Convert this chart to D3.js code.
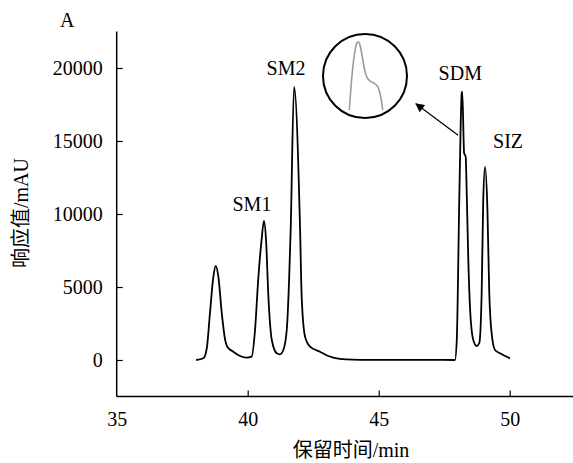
<!DOCTYPE html>
<html><head><meta charset="utf-8">
<script src="https://cdn.jsdelivr.net/npm/d3@7"></script>
<style>
html,body{margin:0;padding:0;background:#fff;}
svg{display:block;}
text{font-family:"Liberation Serif","Times New Roman","Noto Sans CJK SC",serif;fill:#000;}
</style></head>
<body>
<script>
// ---- data ----
const times = [38.03,38.31,38.44,38.56,38.69,38.78,38.88,39.01,39.14,39.22,39.45,39.71,39.96,40.15,40.28,40.40,40.53,40.62,40.70,40.79,40.92,41.11,41.23,41.36,41.49,41.58,41.64,41.77,42.00,42.06,42.19,42.38,42.76,43.08,43.52,44.0,45.0,46.0,47.0,47.91,47.98,48.08,48.17,48.19,48.26,48.32,48.36,48.42,48.49,48.61,48.74,48.84,48.93,48.99,49.06,49.15,49.22,49.31,49.44,49.63,50.01];
const values = [0,116,822,3220,5706,6440,5706,3220,1370,911,569,274,158,226,2055,5480,8220,9520,8220,4336,1370,459,390,685,2055,5480,8905,18700,8905,4336,1596,911,569,274,70,20,10,10,10,0,1370,11440,18290,18380,14180,13930,11440,6850,3425,1370,959,1165,4590,10960,13220,10275,4590,1850,685,459,116];
const insetTimes = [48.103,48.124,48.147,48.168,48.182,48.197,48.217,48.235,48.256,48.285,48.323,48.353,48.374,48.389,48.398];
const insetValues = [10000,14196,17280,18828,19040,18600,17055,15520,14410,13840,13535,13085,12210,10890,10000];
const xTicks = [35,40,45,50];
const yTicks = [0,5000,10000,15000,20000];
const peakNames = ["SM1","SM2","SDM","SIZ"];
const peakTimes = [40.62,41.77,48.19,49.06];
const peakValues = [9520,18700,18380,13220];

const W=573,H=463;
const svg=d3.select("body").append("svg").attr("width",W).attr("height",H);
const x=d3.scaleLinear().domain([35,52.5]).range([116.7,575.2]);
const y=d3.scaleLinear().domain([-2500,22500]).range([396.5,31.5]);

// axes
const gx=svg.append("g").attr("transform",`translate(0,${y(-2500)})`)
  .call(d3.axisTop(x).tickValues(xTicks).tickSize(6).tickFormat(d3.format("d")));
gx.select(".domain").attr("stroke","#000").attr("stroke-width",1.5).attr("d",`M${x(35)},0H${x(52.5)}`);
gx.selectAll(".tick line").attr("stroke","#000").attr("stroke-width",1.2);
gx.selectAll(".tick").filter(d=>d===35).select("line").remove();
gx.selectAll(".tick text").attr("y",29).attr("dy",0).attr("font-size","20px").attr("font-family","Liberation Serif");

const gy=svg.append("g").attr("transform",`translate(${x(35)},0)`)
  .call(d3.axisRight(y).tickValues(yTicks).tickSize(6).tickFormat(d3.format("d")));
gy.select(".domain").attr("stroke","#000").attr("stroke-width",1.5).attr("d",`M0,${y(22500)}V${y(-2500)}`);
gy.selectAll(".tick line").attr("stroke","#000").attr("stroke-width",1.2);
gy.selectAll(".tick text").attr("x",-14).attr("text-anchor","end").attr("font-size","20px").attr("font-family","Liberation Serif");

// axis titles
svg.append("text").attr("x",351).attr("y",457).attr("text-anchor","middle").attr("font-size","20px").text("保留时间/min");
svg.append("text").attr("transform","translate(28,213) rotate(-90)").attr("text-anchor","middle").attr("font-size","20px").text("响应值/mAU");
svg.append("text").attr("x",60).attr("y",27).attr("font-size","20px").text("A");

// main curve
const pts=times.map((t,i)=>[t,values[i]]);
const line=d3.line().x(d=>x(d[0])).y(d=>y(d[1])).curve(d3.curveMonotoneX);
svg.append("path").datum(pts).attr("d",line).attr("fill","none").attr("stroke","#000").attr("stroke-width",1.8).attr("stroke-linejoin","round");

// peak labels
const offs=[[-12,-10],[-8,-12],[-2,-12],[23,-19]];
svg.selectAll("text.pk").data(peakNames).enter().append("text").attr("class","pk")
  .attr("x",(d,i)=>x(peakTimes[i])+offs[i][0]).attr("y",(d,i)=>y(peakValues[i])+offs[i][1])
  .attr("text-anchor","middle").attr("font-size","20px").text(d=>d);

// arrow
const defs=svg.append("defs");
defs.append("marker").attr("id","ah").attr("viewBox","0 0 10 10").attr("refX",9).attr("refY",5)
  .attr("markerWidth",11).attr("markerHeight",9).attr("markerUnits","userSpaceOnUse").attr("orient","auto")
  .append("path").attr("d","M0,0L10,5L0,10Z").attr("fill","#000");
svg.append("line").attr("x1",x(48.03)).attr("y1",y(15400)).attr("x2",x(46.42)).attr("y2",y(17550))
  .attr("stroke","#000").attr("stroke-width",1.2).attr("marker-end","url(#ah)");

// inset
svg.append("circle").attr("cx",365).attr("cy",76).attr("r",42).attr("fill","#fff").attr("stroke","#000").attr("stroke-width",2);
const ix=d3.scaleLinear().domain([48.10,48.40]).range([349,383]);
const iy=d3.scaleLinear().domain([10000,19000]).range([110,42]);
svg.append("path").datum(insetTimes.map((t,i)=>[t,insetValues[i]]))
  .attr("d",d3.line().x(d=>ix(d[0])).y(d=>iy(d[1])).curve(d3.curveMonotoneX))
  .attr("fill","none").attr("stroke","#9a9a9a").attr("stroke-width",1.6);
</script>
</body></html>
